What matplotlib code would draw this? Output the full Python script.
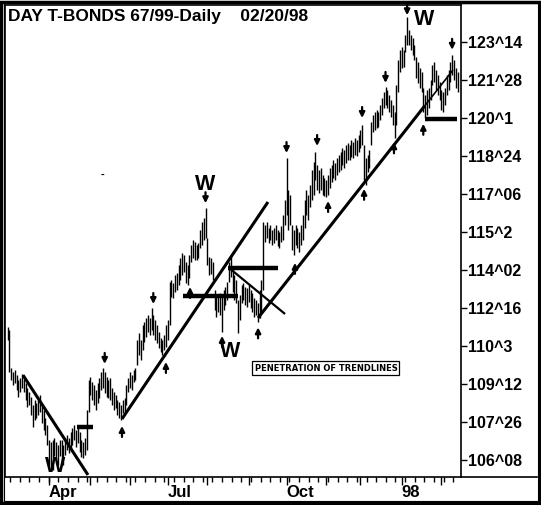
import numpy as np
import matplotlib
matplotlib.use("Agg")
import matplotlib.pyplot as plt
from matplotlib.patches import Rectangle

# daily highs / lows (decimal points)
highs = [111.72, 111.59, 110.03, 109.87, 109.95, 109.74, 109.54, 109.62, 109.79, 109.70,
         109.42, 109.21, 109.05, 108.84, 108.51, 108.72, 108.59, 108.72, 108.92, 108.51,
         108.31, 107.98, 107.69, 107.07, 106.99, 107.07, 107.16, 106.99, 106.87, 107.07,
         107.07, 106.87, 107.16, 107.28, 107.16, 107.40, 107.57, 107.69, 107.49, 107.61,
         107.40, 107.07, 106.99, 107.16, 108.31, 109.54, 109.66, 109.46, 109.33, 109.13,
         109.42, 109.62, 109.87, 110.03, 109.87, 109.66, 109.54, 109.62, 109.21, 109.05,
         108.92, 108.72, 108.64, 108.51, 108.72, 108.80, 109.33, 109.62, 109.87, 109.74,
         109.95, 110.03, 111.18, 111.47, 111.18, 111.80, 111.92, 112.09, 112.21, 112.09,
         112.50, 112.21, 112.00, 111.80, 111.51, 111.26, 111.18, 111.39, 111.80, 112.00,
         113.57, 113.65, 113.52, 113.85, 113.94, 114.26, 114.55, 114.76, 114.67, 114.39,
         114.26, 114.67, 115.09, 115.29, 115.21, 115.09, 115.17, 115.70, 116.03, 116.19,
         116.61, 115.37, 114.59, 114.55, 114.39, 113.24, 112.95, 113.03, 113.11, 112.95,
         113.24, 113.36, 113.57, 114.39, 114.59, 114.14, 113.85, 113.65, 112.83, 113.03,
         113.44, 113.52, 113.36, 113.32, 113.44, 113.24, 113.11, 112.91, 112.83, 112.70,
         113.24, 113.65, 116.03, 115.91, 116.03, 115.78, 115.91, 115.70, 115.78, 115.91,
         115.70, 115.62, 115.87, 116.32, 116.93, 118.66, 117.34, 117.14, 115.91, 115.70,
         115.91, 115.78, 115.62, 115.91, 116.32, 116.93, 117.34, 117.14, 117.55, 118.17,
         118.50, 118.91, 118.37, 118.17, 118.25, 117.96, 117.84, 117.76, 117.96, 118.25,
         118.37, 118.58, 118.45, 118.66, 118.78, 118.91, 119.07, 118.99, 119.19, 119.28,
         119.19, 119.40, 119.32, 119.48, 119.40, 119.60, 119.81, 120.01, 119.19, 118.66,
         118.78, 118.99, 120.14, 120.43, 120.55, 120.63, 120.55, 120.84, 121.12, 121.37,
         121.58, 121.45, 121.25, 121.04, 120.84, 120.55, 121.66, 122.69, 123.10, 123.22,
         123.10, 123.71, 124.45, 123.92, 123.71, 123.59, 123.30, 122.81, 122.60, 122.36,
         122.19, 121.53, 121.25, 121.45, 121.53, 121.86, 122.48, 122.60, 122.27, 122.07,
         121.78, 121.45, 121.37, 121.53, 122.07, 122.27, 122.60, 122.89, 122.69, 122.36,
         122.19]
lows = [111.18, 109.87, 109.54, 109.33, 109.42, 109.13, 108.84, 109.05, 109.21, 109.05,
        108.72, 108.43, 108.51, 108.10, 107.61, 107.90, 107.98, 108.10, 108.23, 107.77,
        107.49, 107.28, 106.87, 106.05, 105.92, 105.84, 106.42, 106.34, 106.05, 106.42,
        106.17, 106.05, 106.46, 106.66, 106.54, 106.75, 106.87, 107.07, 106.79, 106.95,
        106.58, 106.38, 106.34, 106.46, 106.66, 108.23, 108.92, 108.72, 108.51, 108.31,
        108.59, 108.80, 109.13, 109.21, 109.01, 108.84, 108.80, 108.72, 108.51, 108.31,
        108.39, 108.10, 107.98, 107.90, 108.18, 108.23, 108.51, 109.05, 109.21, 109.13,
        109.46, 109.54, 110.16, 110.57, 110.36, 110.77, 111.10, 111.31, 111.51, 111.39,
        111.59, 111.39, 111.18, 111.06, 110.85, 110.69, 110.57, 110.77, 110.90, 111.18,
        111.80, 112.95, 112.91, 113.15, 113.24, 113.44, 113.65, 113.85, 113.98, 113.52,
        113.44, 113.73, 114.39, 114.55, 114.47, 114.47, 114.55, 114.96, 115.09, 115.29,
        115.37, 114.26, 113.85, 113.89, 113.65, 112.42, 112.13, 112.33, 112.21, 111.51,
        112.42, 112.62, 112.83, 113.57, 113.77, 113.15, 112.83, 112.70, 111.47, 112.00,
        112.70, 112.83, 112.62, 112.54, 112.74, 112.50, 112.33, 112.13, 112.21, 111.92,
        112.09, 112.33, 113.24, 115.21, 115.37, 115.17, 115.29, 115.09, 115.17, 115.29,
        115.04, 114.96, 115.21, 115.29, 115.91, 116.32, 115.70, 115.91, 114.88, 114.67,
        115.09, 114.96, 114.80, 115.09, 115.29, 115.78, 116.32, 116.11, 116.65, 116.93,
        117.14, 117.76, 117.34, 117.22, 117.34, 117.14, 117.10, 117.06, 117.14, 117.43,
        117.67, 117.84, 117.76, 117.96, 118.08, 118.17, 118.37, 118.25, 118.45, 118.58,
        118.58, 118.70, 118.66, 118.78, 118.74, 118.91, 119.07, 119.19, 117.76, 117.55,
        118.08, 118.25, 119.19, 119.73, 119.81, 119.89, 119.93, 120.22, 120.43, 120.71,
        120.84, 120.71, 120.55, 120.34, 120.01, 119.48, 120.01, 121.37, 122.19, 122.36,
        122.40, 123.01, 123.30, 123.30, 123.10, 122.89, 122.69, 121.95, 121.74, 121.53,
        121.37, 120.55, 120.30, 120.43, 120.71, 121.04, 121.66, 121.78, 121.45, 121.25,
        121.04, 120.63, 120.55, 120.84, 121.25, 121.45, 121.78, 122.07, 121.86, 121.53,
        121.37]

# price axis (32nds)
price_ticks = [106.25, 107.8125, 109.375, 110.9375, 112.5, 114.0625,
               115.625, 117.1875, 118.75, 120.3125, 121.875, 123.4375]
price_labels = ["106^08", "107^26", "109^12", "110^3", "112^16", "114^02",
                "115^2", "117^06", "118^24", "120^1", "121^28", "123^14"]

# month starts (bar index) and labels
month_pos = [23, 46, 68, 89, 111, 134, 155, 177, 196, 219, 241]
month_text = {23: "Apr", 89: "Jul", 155: "Oct", 219: "98"}

# trendlines (bar index, price)
trend_lines = [
    ([8.6, 44.7], [109.74, 105.64], 2.2),
    ([63.6, 144.7], [107.94, 116.85], 2.2),
    ([139.2, 231.9], [112.09, 120.81], 2.2),
    ([231.9, 247.5], [120.81, 122.27], 1.2),
    ([123.1, 154.2], [114.14, 112.25], 1.6),
]
level_lines = [
    ([38.6, 47.5], [107.61, 107.61]),
    ([97.5, 128.1], [112.99, 112.99]),
    ([122.5, 150.3], [114.14, 114.14]),
    ([231.9, 249.7], [120.26, 120.26]),
]

# swing arrows (bar index, tip price)
down_x = [54, 81, 110, 155, 172, 197, 210, 222, 247]
down_p = [110.20, 112.66, 116.80, 118.86, 119.15, 120.30, 121.74, 124.52, 123.10]
up_x = [63.6, 88, 101.4, 119.2, 139.2, 159.7, 178.1, 198.1, 214.7, 231]
up_p = [107.65, 110.28, 113.36, 111.35, 111.70, 114.35, 116.89, 117.39, 119.30, 120.06]

# W marks
w_x = [109.7, 123.6, 26.4, 231.4]
w_p = [117.55, 110.71, 105.97, 124.33]

plt.rcParams['font.family'] = ['Liberation Sans', 'DejaVu Sans']

fig = plt.figure(figsize=(5.41, 5.05), dpi=100)
ax = fig.add_axes([5/541, 28/505, 456/541, 472/505])

idx = np.arange(len(highs))
ax.vlines(idx, lows, highs, color='black', lw=1.0)

for xs, ys, lw in trend_lines:
    ax.plot(xs, ys, color='black', lw=lw, solid_capstyle='butt')
for xs, ys in level_lines:
    ax.plot(xs, ys, color='black', lw=3.2, solid_capstyle='butt')

alen = 0.45
for x, p in zip(down_x, down_p):
    ax.annotate('', xy=(x, p), xytext=(x, p + alen),
                arrowprops=dict(arrowstyle='-|>', color='black', lw=1.6,
                                mutation_scale=8, shrinkA=0, shrinkB=0))
for x, p in zip(up_x, up_p):
    ax.annotate('', xy=(x, p), xytext=(x, p - alen),
                arrowprops=dict(arrowstyle='-|>', color='black', lw=1.6,
                                mutation_scale=8, shrinkA=0, shrinkB=0))

for x, p in zip(w_x, w_p):
    ax.text(x, p, 'W', fontsize=15.5, fontweight='bold', ha='center', va='center')

ax.text(53, 117.96, '-', fontsize=8, fontweight='bold', ha='center', va='center')

ax.text(176.9, 110.03, 'PENETRATION OF TRENDLINES', fontsize=6.0, fontweight='bold',
        family=['Liberation Sans Narrow', 'DejaVu Sans'], ha='center', va='center',
        bbox=dict(boxstyle='square,pad=0.25', fc='white', ec='black', lw=0.9))

ax.text(0.006, 0.975, 'DAY T-BONDS 67/99-Daily    02/20/98', transform=ax.transAxes,
        fontsize=12.5, fontweight='bold', ha='left', va='center')

ax.set_xlim(-1.39, 251.94)
ax.set_ylim(105.555, 124.94)

ax.yaxis.tick_right()
ax.set_yticks(price_ticks)
ax.set_yticklabels(price_labels, fontsize=11.5, fontweight='bold')
ax.tick_params(axis='y', direction='out', length=4, width=1, pad=1)

ax.set_xticks(month_pos)
ax.set_xticklabels([''] * len(month_pos))
ax.set_xticks(np.arange(1.5, 251, 5.35), minor=True)
ax.tick_params(axis='x', which='major', direction='out', length=6, width=1)
ax.tick_params(axis='x', which='minor', direction='out', length=3.5, width=1)
for pos, lab in month_text.items():
    ax.text(pos, -0.018, lab, transform=ax.get_xaxis_transform(), fontsize=12,
            fontweight='bold', ha='left', va='top')

for s in ax.spines.values():
    s.set_linewidth(1.2)

# bottom axis line runs on under the price labels, plus the double frame
fig.add_artist(plt.Line2D([461/541, 537/541], [28/505, 28/505], color='black', lw=1.2))
fig.patches.append(Rectangle((0.002, 0.003), 0.996, 0.994, transform=fig.transFigure,
                             fill=False, ec='black', lw=2.5))
fig.patches.append(Rectangle((3.5/541, 4/505), 534/541, 498/505, transform=fig.transFigure,
                             fill=False, ec='black', lw=0.8))

fig.savefig('out.png', dpi=100)
